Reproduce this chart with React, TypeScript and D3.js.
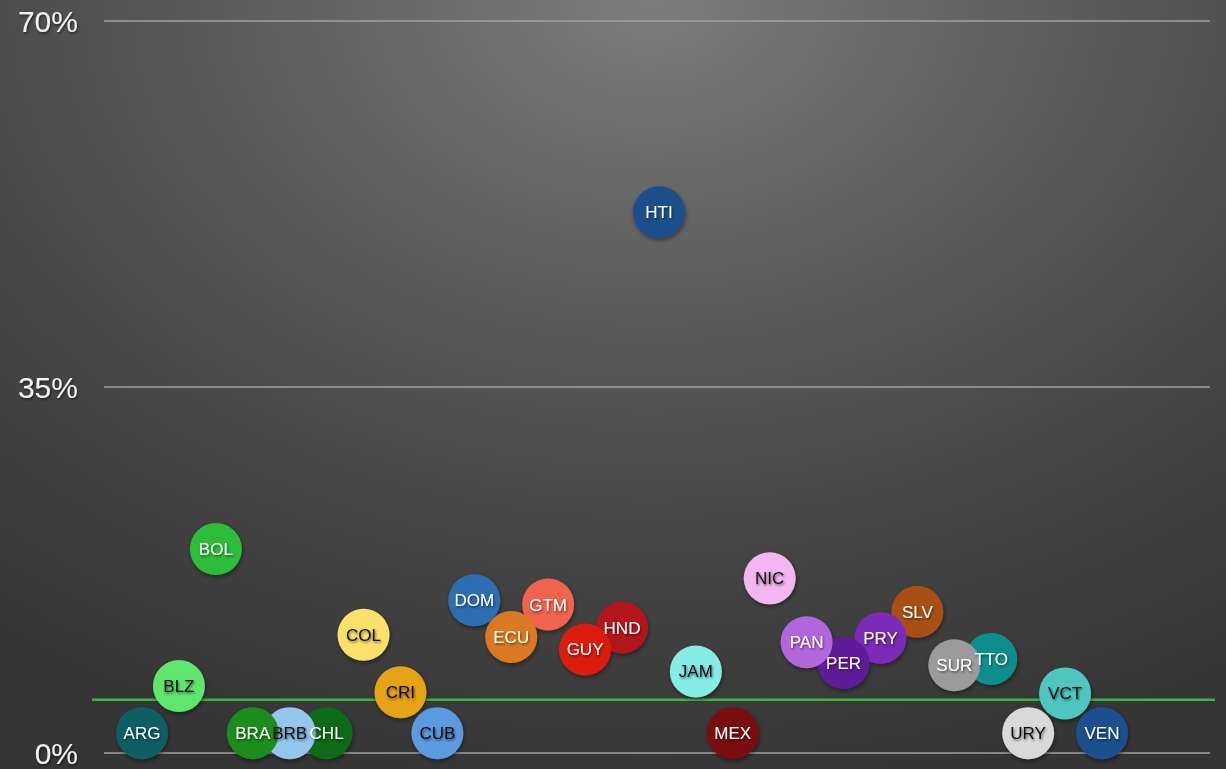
import React from "react";
import * as d3 from "d3";

const countries = ["ARG","BLZ","BOL","BRA","BRB","CHL","COL","CRI","CUB","DOM","ECU","GTM","GUY","HND","HTI","JAM","MEX","NIC","PAN","PER","PRY","SLV","SUR","TTO","URY","VCT","VEN"];
const values = [1.9,6.4,19.5,1.9,1.9,1.9,11.3,5.8,1.9,14.6,11.1,14.2,9.9,12.0,51.7,7.8,1.9,16.7,10.6,8.6,11.0,13.5,8.4,9.0,1.9,5.7,1.9];
const colors = ["#0f5f63","#5fe66c","#2dbd3a","#1b8c1c","#93c6f0","#0e6a14","#fbe069","#e6a318","#5c9ae0","#2f6db1","#d97a23","#ef6350","#dc1f10","#b2181b","#1f4f8a","#86ece6","#7a0f0f","#f3b6f0","#b266dc","#5f1a99","#7b2ab8","#a84f15","#9b9b9b","#108e8c","#d9d9d9","#4fc7c0","#1f4f8d"];
const darkText = ["BLZ","BRB","COL","CRI","CUB","JAM","NIC","URY","VCT"];
const yTicks = [0, 35, 70];
const threshold = 5.1;

const W = 1226, H = 769;

export default function App() {
  const x = d3.scalePoint<string>().domain(countries).range([142, 1102]);
  const y = d3.scaleLinear().domain([0, 70]).range([753, 21]);
  const r = 26;
  const idx = d3.range(countries.length).reverse();
  return (
    <div style={{ position: "fixed", left: 0, top: 0 }}>
      <svg width={W} height={H} style={{ display: "block" }}>
        <defs>
          <radialGradient id="bg" gradientUnits="userSpaceOnUse" cx={0} cy={0} r={1}
            gradientTransform="translate(650,0) scale(1100,800)">
            <stop offset="0" stopColor="#7d7d7d" />
            <stop offset="0.35" stopColor="#5e5e5e" />
            <stop offset="0.7" stopColor="#444444" />
            <stop offset="1" stopColor="#353535" />
          </radialGradient>
          <filter id="sh" x="-30%" y="-30%" width="160%" height="160%">
            <feDropShadow dx="1" dy="2" stdDeviation="2" floodColor="#000" floodOpacity="0.45" />
          </filter>
          <filter id="tsh" x="-20%" y="-20%" width="140%" height="140%">
            <feDropShadow dx="1" dy="1.5" stdDeviation="1" floodColor="#000" floodOpacity="0.55" />
          </filter>
        </defs>
        <rect width={W} height={H} fill="url(#bg)" />
        {yTicks.map((t) => (
          <g key={t}>
            <line x1={104} x2={1210} y1={y(t)} y2={y(t)} stroke="#a0a0a0" strokeWidth={1.3} />
            <text x={78} y={y(t) + 11} textAnchor="end" fill="#f2f2f2" fontFamily="Liberation Sans, Arial, sans-serif" fontSize={30} filter="url(#tsh)">
              {t}%
            </text>
          </g>
        ))}
        <line x1={92} x2={1215} y1={y(threshold)} y2={y(threshold)} stroke="#3cb83c" strokeWidth={2.5} />
        <g filter="url(#sh)">
          {idx.map((i) => (
            <circle key={countries[i]} cx={x(countries[i])} cy={y(values[i])} r={r} fill={colors[i]} />
          ))}
        </g>
        <g filter="url(#tsh)">
          {countries.map((c, i) => (
            <text key={c} x={x(c)} y={y(values[i]) + 6} textAnchor="middle" fontFamily="Liberation Sans, Arial, sans-serif" fontSize={17}
              fill={darkText.includes(c) ? "#111" : "#fff"}>
              {c}
            </text>
          ))}
        </g>
      </svg>
    </div>
  );
}
